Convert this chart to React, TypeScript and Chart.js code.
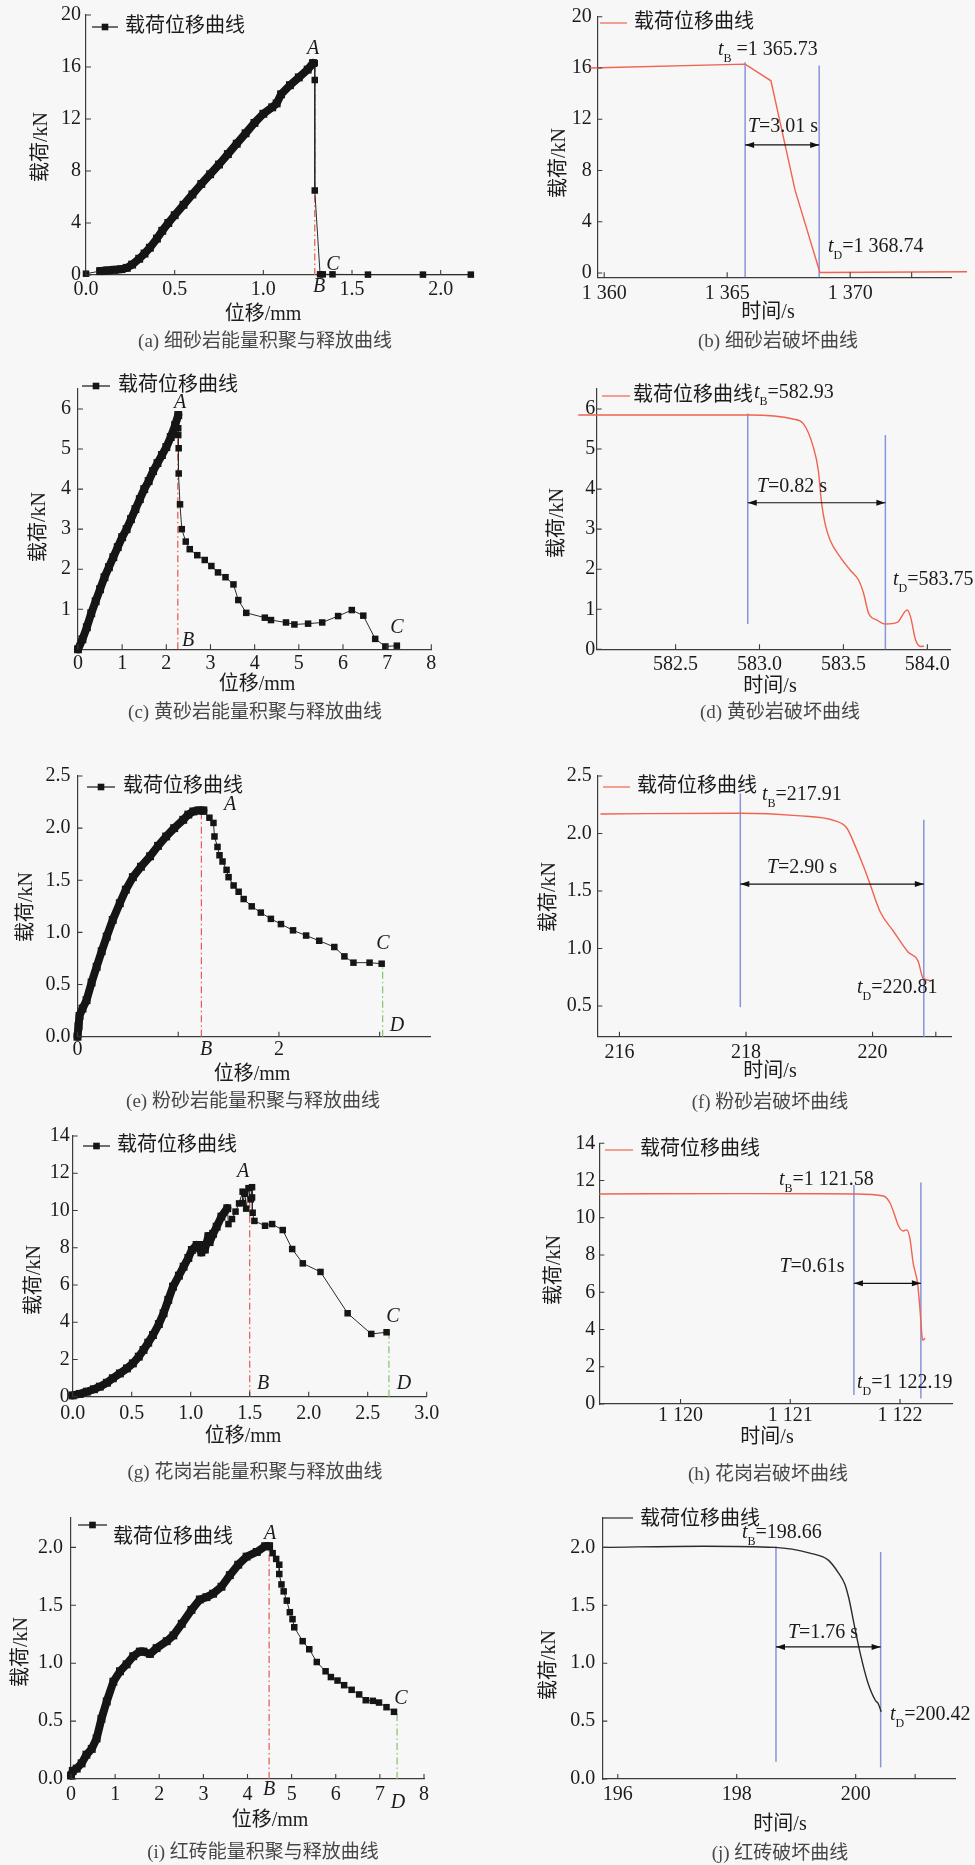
import { useEffect, useRef } from 'react';
import { Chart, registerables } from 'chart.js';

Chart.register(...registerables);

// ---------------- style constants ----------------
const SERIF = '"Liberation Serif", "Times New Roman", "Noto Sans CJK SC", serif';
const INK = '#151515';
const AXIS = '#3c3c3c';
const TXT = '#1b1b1b';
const CAP = '#474747';
const RED_CURVE = '#f1634f';
const RED_DASH = '#e35a4b';
const GREEN_DASH = '#80c56c';
const BLUE = '#8794dc';
const BG = '#f7f7f7';
const DASH_DOT = [7, 3, 1.5, 3];

const LEGEND_TEXT = '载荷位移曲线';
const LOAD_TITLE = '载荷/kN';
const DISP_TITLE = '位移/mm';
const TIME_TITLE = '时间/s';

// ---------------- (a) 细砂岩 load–displacement ----------------
const A_START_X = [0, 0.08];
const A_START_Y = [0.1, 0.3];
const A_DENSE_X = [0.08, 0.12, 0.16, 0.2, 0.23, 0.26, 0.3, 0.33, 0.36, 0.4, 0.43, 0.464, 0.5, 0.55, 0.6, 0.65, 0.7, 0.75, 0.8, 0.85, 0.9, 0.95, 1.0, 1.05, 1.075, 1.1, 1.15, 1.2, 1.25, 1.28];
const A_DENSE_Y = [0.3, 0.35, 0.4, 0.45, 0.55, 0.8, 1.25, 1.65, 2.1, 2.8, 3.4, 4.0, 4.6, 5.4, 6.2, 7.0, 7.75, 8.5, 9.3, 10.1, 10.9, 11.7, 12.4, 12.9, 13.2, 13.9, 14.6, 15.2, 15.8, 16.3];
const A_TAIL_X = [1.28, 1.29, 1.29, 1.29, 1.32, 1.335, 1.39, 1.59, 1.9, 2.17];
const A_TAIL_Y = [16.3, 16.3, 15.0, 6.5, 0.05, 0.05, 0.05, 0.03, 0.03, 0.03];
const A_PEAK = [1.29, 16.3];
const A_X_TICKS = [0, 0.5, 1, 1.5, 2];
const A_X_LABELS = ['0.0', '0.5', '1.0', '1.5', '2.0'];
const LOAD20_TICKS = [0, 4, 8, 12, 16, 20];
const LOAD20_LABELS = ['0', '4', '8', '12', '16', '20'];

// ---------------- (b) 细砂岩 failure curve ----------------
const B_TIME = [1359.42, 1365.73, 1366.78, 1367.76, 1368.77, 1374.75];
const B_LOAD = [16.0, 16.3, 15.0, 6.47, 0.05, 0.1];
const B_TB_TD = [1365.73, 1368.74];
const B_X_TICKS = [1360, 1365, 1370, 1372.5];
const B_X_LABELS = ['1 360', '1 365', '1 370', ''];

// ---------------- (c) 黄砂岩 ----------------
const C_DENSE_X = [0, 0.1, 0.2, 0.3, 0.4, 0.5, 0.6, 0.7, 0.8, 0.9, 1.0, 1.1, 1.2, 1.3, 1.4, 1.5, 1.6, 1.7, 1.8, 1.9, 2.0, 2.1, 2.2, 2.27];
const C_DENSE_Y = [0, 0.25, 0.55, 0.9, 1.2, 1.5, 1.8, 2.05, 2.3, 2.55, 2.8, 3.0, 3.25, 3.5, 3.75, 4.0, 4.2, 4.45, 4.65, 4.85, 5.05, 5.3, 5.6, 5.85];
const C_TAIL_X = [2.27, 2.27, 2.27, 2.28, 2.28, 2.31, 2.35, 2.44, 2.53, 2.7, 2.87, 3.02, 3.17, 3.34, 3.52, 3.63, 3.81, 4.23, 4.37, 4.71, 4.9, 5.21, 5.53, 5.89, 6.2, 6.46, 6.73, 6.96, 7.22];
const C_TAIL_Y = [5.85, 5.52, 5.35, 5.02, 4.39, 3.62, 3.0, 2.69, 2.5, 2.35, 2.23, 2.08, 1.92, 1.8, 1.62, 1.23, 0.91, 0.79, 0.73, 0.67, 0.62, 0.64, 0.67, 0.83, 0.98, 0.84, 0.26, 0.07, 0.09];
const C_PEAK = [2.26, 5.85];
const C_X_TICKS = [0, 1, 2, 3, 4, 5, 6, 7, 8];
const C_X_LABELS = ['0', '1', '2', '3', '4', '5', '6', '7', '8'];
const C_Y_TICKS = [1, 2, 3, 4, 5, 6];
const C_Y_LABELS = ['1', '2', '3', '4', '5', '6'];

// ---------------- (d) 黄砂岩 failure ----------------
const D_TIME = [581.92, 582.94, 583.2, 583.26, 583.32, 583.35, 583.37, 583.39, 583.42, 583.48, 583.54, 583.59, 583.62, 583.65, 583.7, 583.75, 583.82, 583.88, 583.9, 583.93, 583.96, 583.98];
const D_LOAD = [5.85, 5.85, 5.75, 5.64, 5.06, 4.48, 3.65, 3.15, 2.73, 2.31, 1.98, 1.73, 1.4, 0.9, 0.73, 0.63, 0.67, 0.98, 0.81, 0.23, 0.07, 0.08];
const D_TB_TD = [582.93, 583.75];
const D_X_TICKS = [582.5, 583, 583.5, 584];
const D_X_LABELS = ['582.5', '583.0', '583.5', '584.0'];
const D_Y_TICKS = [0, 1, 2, 3, 4, 5, 6];
const D_Y_LABELS = ['0', '1', '2', '3', '4', '5', '6'];

// ---------------- (e) 粉砂岩 ----------------
const E_DENSE_X = [0, 0.01, 0.02, 0.05, 0.09, 0.14, 0.19, 0.24, 0.29, 0.35, 0.42, 0.48, 0.55, 0.63, 0.72, 0.8, 0.88, 0.96, 1.05, 1.1, 1.15, 1.2, 1.25];
const E_DENSE_Y = [0, 0.1, 0.2, 0.27, 0.35, 0.52, 0.67, 0.82, 0.96, 1.12, 1.28, 1.41, 1.53, 1.63, 1.73, 1.83, 1.92, 2.0, 2.08, 2.13, 2.16, 2.17, 2.17];
const E_TAIL_X = [1.25, 1.31, 1.35, 1.36, 1.39, 1.41, 1.44, 1.48, 1.5, 1.55, 1.6, 1.65, 1.73, 1.82, 1.92, 2.02, 2.14, 2.27, 2.4, 2.55, 2.65, 2.74, 2.9, 3.02];
const E_TAIL_Y = [2.16, 2.1, 2.05, 1.92, 1.82, 1.74, 1.68, 1.6, 1.53, 1.45, 1.39, 1.32, 1.25, 1.19, 1.13, 1.08, 1.02, 0.97, 0.92, 0.86, 0.77, 0.71, 0.71, 0.7];
const E_PEAK = [1.23, 2.17];
const E_END = [3.03, 0.7];
const E_X_TICKS = [0, 1, 2, 3];
const E_X_LABELS = ['0', '', '2', ''];
const E_Y_TICKS = [0, 0.5, 1, 1.5, 2, 2.5];
const E_Y_LABELS = ['0.0', '0.5', '1.0', '1.5', '2.0', '2.5'];

// ---------------- (f) 粉砂岩 failure ----------------
const F_TIME = [215.7, 217.9, 218.8, 219.41, 219.59, 219.75, 219.86, 219.96, 220.12, 220.33, 220.56, 220.72, 220.8, 220.93];
const F_LOAD = [2.17, 2.176, 2.155, 2.11, 2.05, 1.86, 1.71, 1.56, 1.32, 1.15, 0.97, 0.89, 0.74, 0.72];
const F_TB_TD = [217.91, 220.81];
const F_X_TICKS = [216, 218, 220, 221];
const F_X_LABELS = ['216', '218', '220', ''];
const F_Y_TICKS = [0.5, 1, 1.5, 2, 2.5];
const F_Y_LABELS = ['0.5', '1.0', '1.5', '2.0', '2.5'];

// ---------------- (g) 花岗岩 ----------------
const G_DENSE_X = [0.0, 0.06, 0.12, 0.18, 0.23, 0.29, 0.34, 0.4, 0.46, 0.51, 0.56, 0.6, 0.64, 0.68, 0.73, 0.77, 0.81, 0.85, 0.9, 0.94, 0.98, 1.01, 1.05, 1.08, 1.09, 1.11, 1.12, 1.15, 1.16, 1.19, 1.22, 1.26, 1.31];
const G_DENSE_Y = [0.07, 0.15, 0.27, 0.4, 0.54, 0.75, 0.99, 1.25, 1.52, 1.79, 2.15, 2.51, 2.9, 3.31, 3.9, 4.48, 5.2, 5.91, 6.5, 6.98, 7.45, 7.88, 8.15, 7.96, 7.75, 8.15, 7.9, 8.62, 8.3, 8.75, 9.13, 9.67, 10.12];
const G_TAIL_X = [1.31, 1.32, 1.35, 1.38, 1.41, 1.44, 1.44, 1.46, 1.47, 1.49, 1.51, 1.52, 1.52, 1.525, 1.54, 1.63, 1.69, 1.78, 1.86, 1.95, 2.1, 2.33, 2.53, 2.66];
const G_TAIL_Y = [10.12, 9.27, 9.54, 9.94, 10.38, 11.01, 10.4, 10.9, 10.1, 11.2, 10.6, 11.25, 10.7, 9.88, 9.44, 9.18, 9.27, 8.95, 7.93, 7.16, 6.7, 4.48, 3.37, 3.46];
const G_PEAK = [1.5, 11.0];
const G_END = [2.68, 3.46];
const G_X_TICKS = [0, 0.5, 1, 1.5, 2, 2.5, 3];
const G_X_LABELS = ['0.0', '0.5', '1.0', '1.5', '2.0', '2.5', '3.0'];
const LOAD14_TICKS = [0, 2, 4, 6, 8, 10, 12, 14];
const LOAD14_LABELS = ['0', '2', '4', '6', '8', '10', '12', '14'];

// ---------------- (h) 花岗岩 failure ----------------
const H_TIME = [1119.26, 1120.57, 1121.59, 1121.85, 1121.91, 1121.94, 1121.99, 1122.03, 1122.06, 1122.09, 1122.12, 1122.16, 1122.18, 1122.2, 1122.205, 1122.23];
const H_LOAD = [11.28, 11.3, 11.28, 11.17, 10.78, 10.33, 9.52, 9.29, 9.35, 8.9, 7.56, 6.48, 5.23, 3.65, 3.43, 3.52];
const H_TB_TD = [1121.58, 1122.19];
const H_X_TICKS = [1120, 1121, 1122];
const H_X_LABELS = ['1 120', '1 121', '1 122'];

// ---------------- (i) 红砖 ----------------
const I_DENSE_X = [0, 0.04, 0.13, 0.24, 0.35, 0.47, 0.58, 0.69, 0.81, 0.96, 1.11, 1.26, 1.41, 1.56, 1.64, 1.79, 1.94, 2.17, 2.32, 2.51, 2.73, 2.92, 3.07, 3.22, 3.41, 3.6, 3.79, 3.98, 4.21, 4.4, 4.49];
const I_DENSE_Y = [0.03, 0.07, 0.09, 0.135, 0.21, 0.26, 0.35, 0.52, 0.67, 0.84, 0.93, 0.99, 1.06, 1.1, 1.1, 1.08, 1.13, 1.19, 1.24, 1.34, 1.46, 1.55, 1.57, 1.6, 1.66, 1.76, 1.85, 1.92, 1.96, 2.01, 2.01];
const I_TAIL_X = [4.49, 4.57, 4.65, 4.72, 4.72, 4.77, 4.82, 4.89, 4.96, 5.02, 5.06, 5.25, 5.4, 5.57, 5.77, 5.89, 6.04, 6.19, 6.36, 6.53, 6.68, 6.84, 6.98, 7.15, 7.32];
const I_TAIL_Y = [2.01, 1.95, 1.9, 1.85, 1.77, 1.68, 1.62, 1.54, 1.44, 1.38, 1.31, 1.19, 1.12, 1.01, 0.93, 0.88, 0.85, 0.81, 0.77, 0.73, 0.68, 0.675, 0.66, 0.62, 0.58];
const I_PEAK = [4.49, 2.01];
const I_END = [7.39, 0.58];
const I_Y_TICKS = [0, 0.5, 1, 1.5, 2];
const I_Y_LABELS = ['0.0', '0.5', '1.0', '1.5', '2.0'];

// ---------------- (j) 红砖 failure ----------------
const J_TIME = [195.76, 197.44, 198.64, 199.23, 199.54, 199.71, 199.82, 199.89, 199.98, 200.07, 200.2, 200.33, 200.38, 200.43];
const J_LOAD = [2.0, 2.01, 2.0, 1.95, 1.89, 1.78, 1.68, 1.55, 1.32, 1.1, 0.84, 0.68, 0.65, 0.58];
const J_TB_TD = [198.66, 200.42];
const J_X_TICKS = [196, 198, 200, 201];
const J_X_LABELS = ['196', '198', '200', ''];

// ---------------- panel layout ----------------
type Seg = [string, string?];
type Txt = { segs: Seg[]; x: number; y: number; size?: number; align?: 'left' | 'center' };

const letter = (s: string, x: number, y: number): Txt => ({ segs: [[s, 'i']], x, y, align: 'center' });
const tLabel = (sub: string, rest: string, x: number, y: number): Txt => ({ segs: [['t', 'i'], [sub, 's'], [rest]], x, y, align: 'left' });
const tSpan = (rest: string, x: number, y: number): Txt => ({ segs: [['T', 'i'], [rest]], x, y, align: 'center' });

const PANELS: any[] = [
  {
    id: 'a', box: [0, 0, 490, 365], area: [86, 15, 472.6, 275],
    x: { min: 0, max: 2.18, ticks: A_X_TICKS, labels: A_X_LABELS, pad: 3 },
    y: { min: 0, max: 20, ticks: LOAD20_TICKS, labels: LOAD20_LABELS, pad: 5 },
    series: [
      { xs: A_START_X, ys: A_START_Y, kind: 'marker' },
      { xs: A_DENSE_X, ys: A_DENSE_Y, kind: 'thick' },
      { xs: A_TAIL_X, ys: A_TAIL_Y, kind: 'marker' },
    ],
    vlines: [{ x: A_PEAK[0], y0: 0, y1: A_PEAK[1], color: RED_DASH, dash: DASH_DOT }],
    texts: [letter('A', 313, 49), letter('B', 319, 287), letter('C', 333, 265)],
    legend: { x1: 92, x2: 118, y: 27, tx: 125, color: INK, marker: true },
    xTitle: [DISP_TITLE, 263, 315], yTitle: [LOAD_TITLE, 42, 147],
    caption: ['(a) 细砂岩能量积聚与释放曲线', 265, 342],
  },
  {
    id: 'b', box: [490, 0, 485, 365], area: [597.3, 16.7, 951, 277.3],
    x: { min: 1359.72, max: 1374.1, ticks: B_X_TICKS, labels: B_X_LABELS, pad: 4 },
    y: { min: -0.33, max: 20, ticks: LOAD20_TICKS, labels: LOAD20_LABELS, pad: 5.5 },
    series: [{ xs: B_TIME, ys: B_LOAD, kind: 'line', color: RED_CURVE }],
    vlines: [
      { x: B_TB_TD[0], y0: -0.33, y1: 16.45, color: BLUE, width: 1.5 },
      { x: B_TB_TD[1], y0: -0.33, y1: 16.2, color: BLUE, width: 1.5 },
    ],
    arrow: { x1: B_TB_TD[0], x2: B_TB_TD[1], y: 10 },
    texts: [tSpan('=3.01 s', 783, 127), tLabel('B', ' =1 365.73', 718, 50), tLabel('D', '=1 368.74', 828, 247)],
    legend: { x1: 600, x2: 627, y: 23, tx: 634, color: RED_CURVE, marker: false },
    xTitle: [TIME_TITLE, 768, 313], yTitle: [LOAD_TITLE, 560, 163],
    caption: ['(b) 细砂岩破坏曲线', 778, 342],
  },
  {
    id: 'c', box: [0, 365, 490, 375], area: [78, 389, 431.3, 649.3],
    x: { min: 0, max: 8, ticks: C_X_TICKS, labels: C_X_LABELS, pad: 2 },
    y: { min: 0, max: 6.5, ticks: C_Y_TICKS, labels: C_Y_LABELS, pad: 7 },
    series: [
      { xs: C_DENSE_X, ys: C_DENSE_Y, kind: 'thick' },
      { xs: C_TAIL_X, ys: C_TAIL_Y, kind: 'marker' },
    ],
    vlines: [{ x: C_PEAK[0], y0: 0, y1: C_PEAK[1], color: RED_DASH, dash: DASH_DOT }],
    texts: [letter('A', 180, 403), letter('B', 188, 641), letter('C', 397, 628)],
    legend: { x1: 82, x2: 110, y: 386, tx: 118, color: INK, marker: true },
    xTitle: [DISP_TITLE, 257, 685], yTitle: [LOAD_TITLE, 40, 527],
    caption: ['(c) 黄砂岩能量积聚与释放曲线', 255, 713],
  },
  {
    id: 'd', box: [490, 365, 485, 375], area: [596.7, 389, 950, 649.3],
    x: { min: 582.03, max: 584.135, ticks: D_X_TICKS, labels: D_X_LABELS, pad: 3 },
    y: { min: 0, max: 6.5, ticks: D_Y_TICKS, labels: D_Y_LABELS, pad: 1.5 },
    series: [{ xs: D_TIME, ys: D_LOAD, kind: 'line', color: RED_CURVE, smooth: true }],
    vlines: [
      { x: D_TB_TD[0], y0: 0.63, y1: 5.89, color: BLUE, width: 1.5 },
      { x: D_TB_TD[1], y0: 0, y1: 5.35, color: BLUE, width: 1.5 },
    ],
    arrow: { x1: D_TB_TD[0], x2: D_TB_TD[1], y: 3.66 },
    texts: [tSpan('=0.82 s', 792, 487), tLabel('B', '=582.93', 754, 393), tLabel('D', '=583.75', 893, 580)],
    legend: { x1: 602, x2: 630, y: 396, tx: 633, color: RED_CURVE, marker: false },
    xTitle: [TIME_TITLE, 770, 687], yTitle: [LOAD_TITLE, 558, 523],
    caption: ['(d) 黄砂岩破坏曲线', 780, 713],
  },
  {
    id: 'e', box: [0, 740, 490, 378], area: [77.5, 776, 430, 1036.7],
    x: { min: 0, max: 3.5, ticks: E_X_TICKS, labels: E_X_LABELS, pad: 1.3 },
    y: { min: 0, max: 2.5, ticks: E_Y_TICKS, labels: E_Y_LABELS, pad: 7 },
    series: [
      { xs: E_DENSE_X, ys: E_DENSE_Y, kind: 'thick' },
      { xs: E_TAIL_X, ys: E_TAIL_Y, kind: 'marker' },
    ],
    vlines: [
      { x: E_PEAK[0], y0: 0, y1: E_PEAK[1], color: RED_DASH, dash: DASH_DOT },
      { x: E_END[0], y0: 0, y1: E_END[1], color: GREEN_DASH, dash: DASH_DOT },
    ],
    texts: [letter('A', 230, 805), letter('B', 206, 1050), letter('C', 383, 944), letter('D', 397, 1026)],
    legend: { x1: 87, x2: 115, y: 787, tx: 123, color: INK, marker: true },
    xTitle: [DISP_TITLE, 252, 1075], yTitle: [LOAD_TITLE, 27, 907],
    caption: ['(e) 粉砂岩能量积聚与释放曲线', 253, 1102],
  },
  {
    id: 'f', box: [490, 740, 485, 378], area: [597.3, 776, 951, 1036.7],
    x: { min: 215.65, max: 221.24, ticks: F_X_TICKS, labels: F_X_LABELS, pad: 4 },
    y: { min: 0.233, max: 2.5, ticks: F_Y_TICKS, labels: F_Y_LABELS, pad: 5.5 },
    series: [{ xs: F_TIME, ys: F_LOAD, kind: 'line', color: RED_CURVE, smooth: true }],
    vlines: [
      { x: F_TB_TD[0], y0: 0.49, y1: 2.35, color: BLUE, width: 1.5 },
      { x: F_TB_TD[1], y0: 0.233, y1: 2.12, color: BLUE, width: 1.5 },
    ],
    arrow: { x1: F_TB_TD[0], x2: F_TB_TD[1], y: 1.56 },
    texts: [tSpan('=2.90 s', 802, 868), tLabel('B', '=217.91', 762, 795), tLabel('D', '=220.81', 857, 988)],
    legend: { x1: 603, x2: 630, y: 787, tx: 637, color: RED_CURVE, marker: false },
    xTitle: [TIME_TITLE, 770, 1072], yTitle: [LOAD_TITLE, 550, 897],
    caption: ['(f) 粉砂岩破坏曲线', 770, 1103],
  },
  {
    id: 'g', box: [0, 1118, 490, 370], area: [72.7, 1136, 426.7, 1396.7],
    x: { min: 0, max: 3, ticks: G_X_TICKS, labels: G_X_LABELS, pad: 4.6 },
    y: { min: 0, max: 14, ticks: LOAD14_TICKS, labels: LOAD14_LABELS, pad: 3 },
    series: [
      { xs: G_DENSE_X, ys: G_DENSE_Y, kind: 'thick' },
      { xs: G_TAIL_X, ys: G_TAIL_Y, kind: 'marker' },
    ],
    vlines: [
      { x: G_PEAK[0], y0: 0, y1: G_PEAK[1], color: RED_DASH, dash: DASH_DOT },
      { x: G_END[0], y0: 0, y1: G_END[1], color: GREEN_DASH, dash: DASH_DOT },
    ],
    texts: [letter('A', 243, 1172), letter('B', 263, 1384), letter('C', 393, 1317), letter('D', 404, 1384)],
    legend: { x1: 83, x2: 110, y: 1146, tx: 117, color: INK, marker: true },
    xTitle: [DISP_TITLE, 243, 1437], yTitle: [LOAD_TITLE, 35, 1280],
    caption: ['(g) 花岗岩能量积聚与释放曲线', 255, 1473],
  },
  {
    id: 'h', box: [490, 1118, 485, 370], area: [599.3, 1143.3, 952.7, 1404],
    x: { min: 1119.26, max: 1122.48, ticks: H_X_TICKS, labels: H_X_LABELS, pad: 0 },
    y: { min: 0, max: 14, ticks: LOAD14_TICKS, labels: LOAD14_LABELS, pad: 4 },
    series: [{ xs: H_TIME, ys: H_LOAD, kind: 'line', color: RED_CURVE, smooth: true }],
    vlines: [
      { x: H_TB_TD[0], y0: 0.48, y1: 11.76, color: BLUE, width: 1.5 },
      { x: H_TB_TD[1], y0: 0.3, y1: 11.89, color: BLUE, width: 1.5 },
    ],
    arrow: { x1: H_TB_TD[0], x2: H_TB_TD[1], y: 6.48 },
    texts: [tSpan('=0.61s', 812, 1267), tLabel('B', '=1 121.58', 779, 1180), tLabel('D', '=1 122.19', 857, 1383)],
    legend: { x1: 605, x2: 633, y: 1150, tx: 640, color: RED_CURVE, marker: false },
    xTitle: [TIME_TITLE, 767, 1438], yTitle: [LOAD_TITLE, 555, 1270],
    caption: ['(h) 花岗岩破坏曲线', 768, 1475],
  },
  {
    id: 'i', box: [0, 1488, 490, 377], area: [71, 1517.7, 424, 1779],
    x: { min: 0, max: 8, ticks: C_X_TICKS, labels: C_X_LABELS, pad: 4 },
    y: { min: 0, max: 2.256, ticks: I_Y_TICKS, labels: I_Y_LABELS, pad: 8 },
    series: [
      { xs: I_DENSE_X, ys: I_DENSE_Y, kind: 'thick' },
      { xs: I_TAIL_X, ys: I_TAIL_Y, kind: 'marker' },
    ],
    vlines: [
      { x: I_PEAK[0], y0: 0, y1: I_PEAK[1], color: RED_DASH, dash: DASH_DOT },
      { x: I_END[0], y0: 0, y1: I_END[1], color: GREEN_DASH, dash: DASH_DOT },
    ],
    texts: [letter('A', 270, 1534), letter('B', 269, 1790), letter('C', 401, 1699), letter('D', 398, 1803)],
    legend: { x1: 78, x2: 107, y: 1525, tx: 113, ty: 1538, color: INK, marker: true },
    xTitle: [DISP_TITLE, 270, 1821], yTitle: [LOAD_TITLE, 22, 1652],
    caption: ['(i) 红砖能量积聚与释放曲线', 263, 1853],
  },
  {
    id: 'j', box: [490, 1488, 485, 377], area: [602.3, 1517.7, 955, 1779],
    x: { min: 195.74, max: 201.67, ticks: J_X_TICKS, labels: J_X_LABELS, pad: 4 },
    y: { min: 0, max: 2.256, ticks: I_Y_TICKS, labels: I_Y_LABELS, pad: 7 },
    series: [{ xs: J_TIME, ys: J_LOAD, kind: 'line', color: '#2a2a2a', smooth: true }],
    vlines: [
      { x: J_TB_TD[0], y0: 0.15, y1: 2.01, color: BLUE, width: 1.5 },
      { x: J_TB_TD[1], y0: 0.1, y1: 1.96, color: BLUE, width: 1.5 },
    ],
    arrow: { x1: J_TB_TD[0], x2: J_TB_TD[1], y: 1.14 },
    texts: [tSpan('=1.76 s', 823, 1633), tLabel('B', '=198.66', 742, 1533), tLabel('D', '=200.42', 890, 1715)],
    legend: { x1: 603, x2: 633, y: 1518, tx: 640, ty: 1520, color: '#2a2a2a', marker: false },
    xTitle: [TIME_TITLE, 780, 1825], yTitle: [LOAD_TITLE, 550, 1665],
    caption: ['(j) 红砖破坏曲线', 780, 1854],
  },
];

// ---------------- drawing helpers ----------------
function drawRich(ctx: CanvasRenderingContext2D, segs: Seg[], x: number, y: number, size: number, align: string) {
  const parts = segs.map(([t, st = '']) => {
    const sub = st.includes('s');
    const it = st.includes('i');
    const sz = sub ? Math.round(size * 0.62) : size;
    const f = `${it ? 'italic ' : ''}${sz}px ${SERIF}`;
    ctx.font = f;
    return { t, f, w: ctx.measureText(t).width, dy: sub ? size * 0.42 : 0 };
  });
  const total = parts.reduce((s, q) => s + q.w, 0);
  let cx = align === 'center' ? x - total / 2 : x;
  ctx.textAlign = 'left';
  ctx.textBaseline = 'middle';
  for (const q of parts) {
    ctx.font = q.f;
    ctx.fillText(q.t, cx, y + q.dy);
    cx += q.w;
  }
}

function makeDataset(s: any) {
  const data = s.xs.map((x: number, i: number) => ({ x, y: s.ys[i] }));
  const base = { data, clip: false, showLine: true };
  if (s.kind === 'thick') {
    return {
      ...base, borderColor: INK, backgroundColor: INK, borderWidth: 8,
      borderJoinStyle: 'round', borderCapStyle: 'round',
      pointStyle: 'rect', pointRadius: 5.6, pointBackgroundColor: INK, pointBorderWidth: 0, tension: 0,
    };
  }
  if (s.kind === 'marker') {
    return {
      ...base, borderColor: '#2a2a2a', backgroundColor: INK, borderWidth: 1,
      pointStyle: 'rect', pointRadius: 4.6, pointBackgroundColor: INK, pointBorderColor: INK, pointBorderWidth: 0, tension: 0,
    };
  }
  return {
    ...base, borderColor: s.color, backgroundColor: s.color, borderWidth: 1.4, pointRadius: 0,
    tension: 0, cubicInterpolationMode: s.smooth ? 'monotone' : 'default',
  };
}

// the axis box spans from the canvas edge to the plot area so tick labels are not clipped
function axisOptions(ax: any, horizontal: boolean, size: number) {
  return {
    type: 'linear',
    bounds: 'data',
    min: ax.min,
    max: ax.max,
    grid: { display: false, drawTicks: false },
    border: { display: true, color: AXIS, width: 1.2 },
    ticks: {
      autoSkip: false, maxRotation: 0, minRotation: 0, padding: ax.pad, color: TXT,
      font: { family: SERIF, size: 20 },
      callback: (_v: any, i: number) => ax.labels[i] ?? '',
    },
    afterBuildTicks: (s: any) => { s.ticks = ax.ticks.map((v: number) => ({ value: v })); },
    afterFit: (s: any) => {
      if (horizontal) s.height = size; else s.width = size;
      s.paddingLeft = 0; s.paddingRight = 0; s.paddingTop = 0; s.paddingBottom = 0;
    },
  };
}

function overlay(p: any) {
  const [bl, bt] = p.box;
  const X = (v: number) => v - bl;
  const Y = (v: number) => v - bt;
  return {
    id: 'overlay_' + p.id,
    beforeDatasetsDraw(chart: any) {
      const { ctx } = chart;
      const xs = chart.scales.x, ys = chart.scales.y;
      for (const v of p.vlines) {
        ctx.save();
        ctx.strokeStyle = v.color;
        ctx.lineWidth = v.width ?? 1.2;
        ctx.setLineDash(v.dash ?? []);
        const px = xs.getPixelForValue(v.x);
        ctx.beginPath();
        ctx.moveTo(px, ys.getPixelForValue(v.y0));
        ctx.lineTo(px, ys.getPixelForValue(v.y1));
        ctx.stroke();
        ctx.restore();
      }
    },
    afterDraw(chart: any) {
      const ctx: CanvasRenderingContext2D = chart.ctx;
      const xs = chart.scales.x, ys = chart.scales.y;
      const ca = chart.chartArea;
      ctx.save();
      // inward tick marks
      ctx.strokeStyle = AXIS;
      ctx.lineWidth = 1.1;
      ctx.beginPath();
      for (const v of p.x.ticks) {
        const px = xs.getPixelForValue(v);
        ctx.moveTo(px, ca.bottom);
        ctx.lineTo(px, ca.bottom - 5);
      }
      for (const v of p.y.ticks) {
        const py = ys.getPixelForValue(v);
        ctx.moveTo(ca.left, py);
        ctx.lineTo(ca.left + 5, py);
      }
      ctx.stroke();

      // double arrow for T
      if (p.arrow) {
        const x1 = xs.getPixelForValue(p.arrow.x1);
        const x2 = xs.getPixelForValue(p.arrow.x2);
        const ay = ys.getPixelForValue(p.arrow.y);
        ctx.strokeStyle = '#111';
        ctx.fillStyle = '#111';
        ctx.lineWidth = 1.2;
        ctx.beginPath();
        ctx.moveTo(x1, ay);
        ctx.lineTo(x2, ay);
        ctx.stroke();
        const head = (tx: number, dir: number) => {
          ctx.beginPath();
          ctx.moveTo(tx, ay);
          ctx.lineTo(tx + dir * 9, ay - 3);
          ctx.lineTo(tx + dir * 9, ay + 3);
          ctx.closePath();
          ctx.fill();
        };
        head(x1, 1);
        head(x2, -1);
      }

      // legend
      const L = p.legend;
      ctx.strokeStyle = L.color;
      ctx.lineWidth = 1.2;
      ctx.beginPath();
      ctx.moveTo(X(L.x1), Y(L.y));
      ctx.lineTo(X(L.x2), Y(L.y));
      ctx.stroke();
      if (L.marker) {
        const m = (L.x1 + L.x2) / 2;
        ctx.fillStyle = INK;
        ctx.fillRect(X(m) - 3.3, Y(L.y) - 3.3, 6.6, 6.6);
      }
      ctx.fillStyle = TXT;
      ctx.font = `20px ${SERIF}`;
      ctx.textAlign = 'left';
      ctx.textBaseline = 'middle';
      ctx.fillText(LEGEND_TEXT, X(L.tx), Y(L.ty ?? L.y));

      // annotation texts
      for (const t of p.texts) {
        ctx.fillStyle = TXT;
        drawRich(ctx, t.segs, X(t.x), Y(t.y), t.size ?? 20, t.align ?? 'left');
      }

      // axis titles
      ctx.fillStyle = TXT;
      ctx.font = `20px ${SERIF}`;
      ctx.textAlign = 'center';
      ctx.textBaseline = 'middle';
      ctx.fillText(p.xTitle[0], X(p.xTitle[1]), Y(p.xTitle[2]));
      ctx.save();
      ctx.translate(X(p.yTitle[1]), Y(p.yTitle[2]));
      ctx.rotate(-Math.PI / 2);
      ctx.fillText(p.yTitle[0], 0, 0);
      ctx.restore();

      // caption
      ctx.fillStyle = CAP;
      ctx.font = `19px ${SERIF}`;
      ctx.textAlign = 'center';
      ctx.fillText(p.caption[0], X(p.caption[1]), Y(p.caption[2]));
      ctx.restore();
    },
  };
}

function buildConfig(p: any) {
  const [bl, bt, bw, bh] = p.box;
  const [al, at, ar, ab] = p.area;
  const yAxisWidth = al - bl;
  const xAxisHeight = bt + bh - ab;
  return {
    type: 'scatter',
    data: { datasets: p.series.map(makeDataset) },
    options: {
      animation: false,
      responsive: false,
      devicePixelRatio: 1,
      events: [],
      layout: { padding: { left: 0, top: at - bt, right: bl + bw - ar, bottom: 0 } },
      plugins: { legend: { display: false }, tooltip: { enabled: false }, title: { display: false } },
      scales: { x: axisOptions(p.x, true, xAxisHeight), y: axisOptions(p.y, false, yAxisWidth) },
    },
    plugins: [overlay(p)],
  };
}

function PanelChart({ p }: { p: any }) {
  const ref = useRef<HTMLCanvasElement>(null);
  useEffect(() => {
    const chart = new Chart(ref.current as HTMLCanvasElement, buildConfig(p) as any);
    return () => chart.destroy();
  }, [p]);
  const [l, t, w, h] = p.box;
  return (
    <canvas
      ref={ref}
      width={w}
      height={h}
      style={{ position: 'absolute', left: l, top: t, width: w, height: h }}
    />
  );
}

export default function App() {
  return (
    <div style={{ position: 'absolute', left: 0, top: 0, width: 975, height: 1865, background: BG, overflow: 'hidden' }}>
      {PANELS.map((p) => (
        <PanelChart key={p.id} p={p} />
      ))}
    </div>
  );
}
